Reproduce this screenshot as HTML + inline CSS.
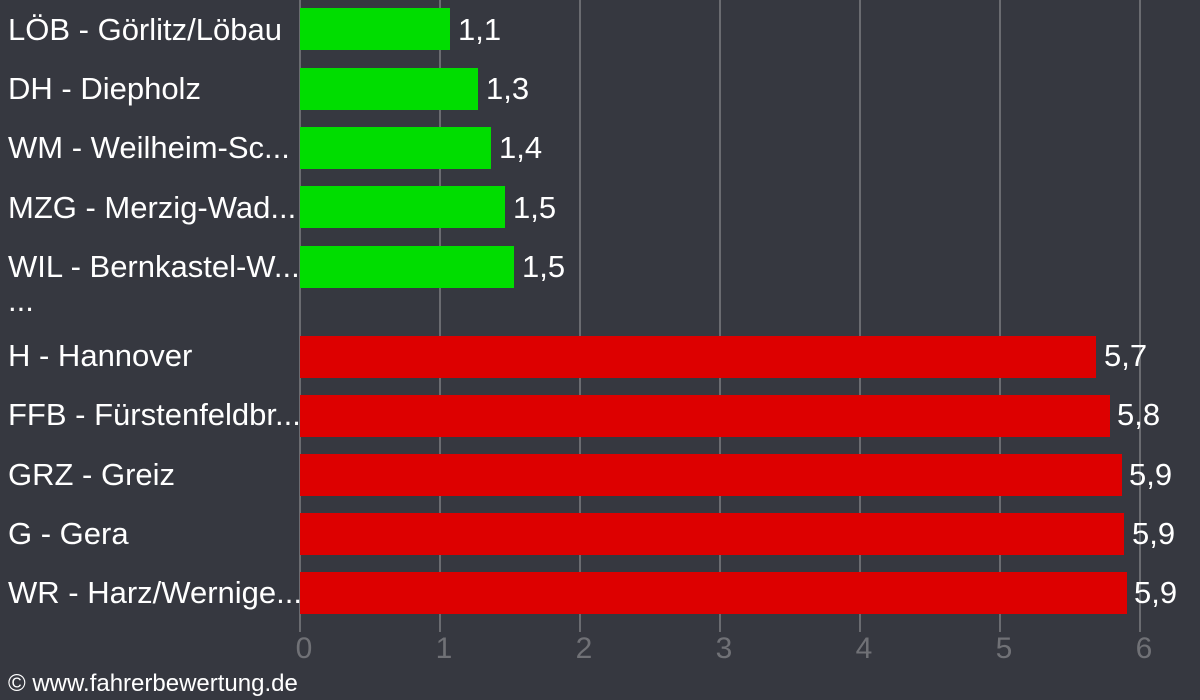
<!DOCTYPE html><html><head><style>
body{margin:0;width:1200px;height:700px;background:#363840;overflow:hidden;position:relative;font-family:"Liberation Sans",sans-serif;color:#fff}
div{position:absolute}
.g{top:0;width:2px;height:632px;background:#6a6b70}
.b{left:300px;height:42px}
.l{left:8px;font-size:31px;line-height:42px;white-space:nowrap}
.v{font-size:31px;line-height:42px}
.t{top:632px;font-size:30px;color:#707176;width:40px;text-align:center}
</style></head><body>
<div class="g" style="left:299px"></div><div class="g" style="left:439px"></div><div class="g" style="left:579px"></div><div class="g" style="left:719px"></div><div class="g" style="left:859px"></div><div class="g" style="left:999px"></div><div class="g" style="left:1139px"></div>
<div class="b" style="top:8px;width:150px;background:#00dd00"></div><div class="l" style="top:9px">LÖB - Görlitz/Löbau</div><div class="v" style="top:9px;left:458px">1,1</div>
<div class="b" style="top:68px;width:178px;background:#00dd00"></div><div class="l" style="top:68px">DH - Diepholz</div><div class="v" style="top:68px;left:486px">1,3</div>
<div class="b" style="top:127px;width:191px;background:#00dd00"></div><div class="l" style="top:127px">WM - Weilheim-Sc...</div><div class="v" style="top:127px;left:499px">1,4</div>
<div class="b" style="top:186px;width:205px;background:#00dd00"></div><div class="l" style="top:187px">MZG - Merzig-Wad...</div><div class="v" style="top:187px;left:513px">1,5</div>
<div class="b" style="top:246px;width:214px;background:#00dd00"></div><div class="l" style="top:246px">WIL - Bernkastel-W...</div><div class="v" style="top:246px;left:522px">1,5</div>
<div class="l" style="top:280px">...</div>
<div class="b" style="top:336px;width:796px;background:#dd0000"></div><div class="l" style="top:335px">H - Hannover</div><div class="v" style="top:335px;left:1104px">5,7</div>
<div class="b" style="top:395px;width:810px;background:#dd0000"></div><div class="l" style="top:394px">FFB - Fürstenfeldbr...</div><div class="v" style="top:394px;left:1117px">5,8</div>
<div class="b" style="top:454px;width:822px;background:#dd0000"></div><div class="l" style="top:454px">GRZ - Greiz</div><div class="v" style="top:454px;left:1129px">5,9</div>
<div class="b" style="top:513px;width:824px;background:#dd0000"></div><div class="l" style="top:513px">G - Gera</div><div class="v" style="top:513px;left:1132px">5,9</div>
<div class="b" style="top:572px;width:827px;background:#dd0000"></div><div class="l" style="top:572px">WR - Harz/Wernige...</div><div class="v" style="top:572px;left:1134px">5,9</div>
<div class="t" style="left:284px">0</div><div class="t" style="left:424px">1</div><div class="t" style="left:564px">2</div><div class="t" style="left:704px">3</div><div class="t" style="left:844px">4</div><div class="t" style="left:984px">5</div><div class="t" style="left:1124px">6</div>
<div style="left:8px;top:670px;font-size:24px">© www.fahrerbewertung.de</div>
</body></html>
